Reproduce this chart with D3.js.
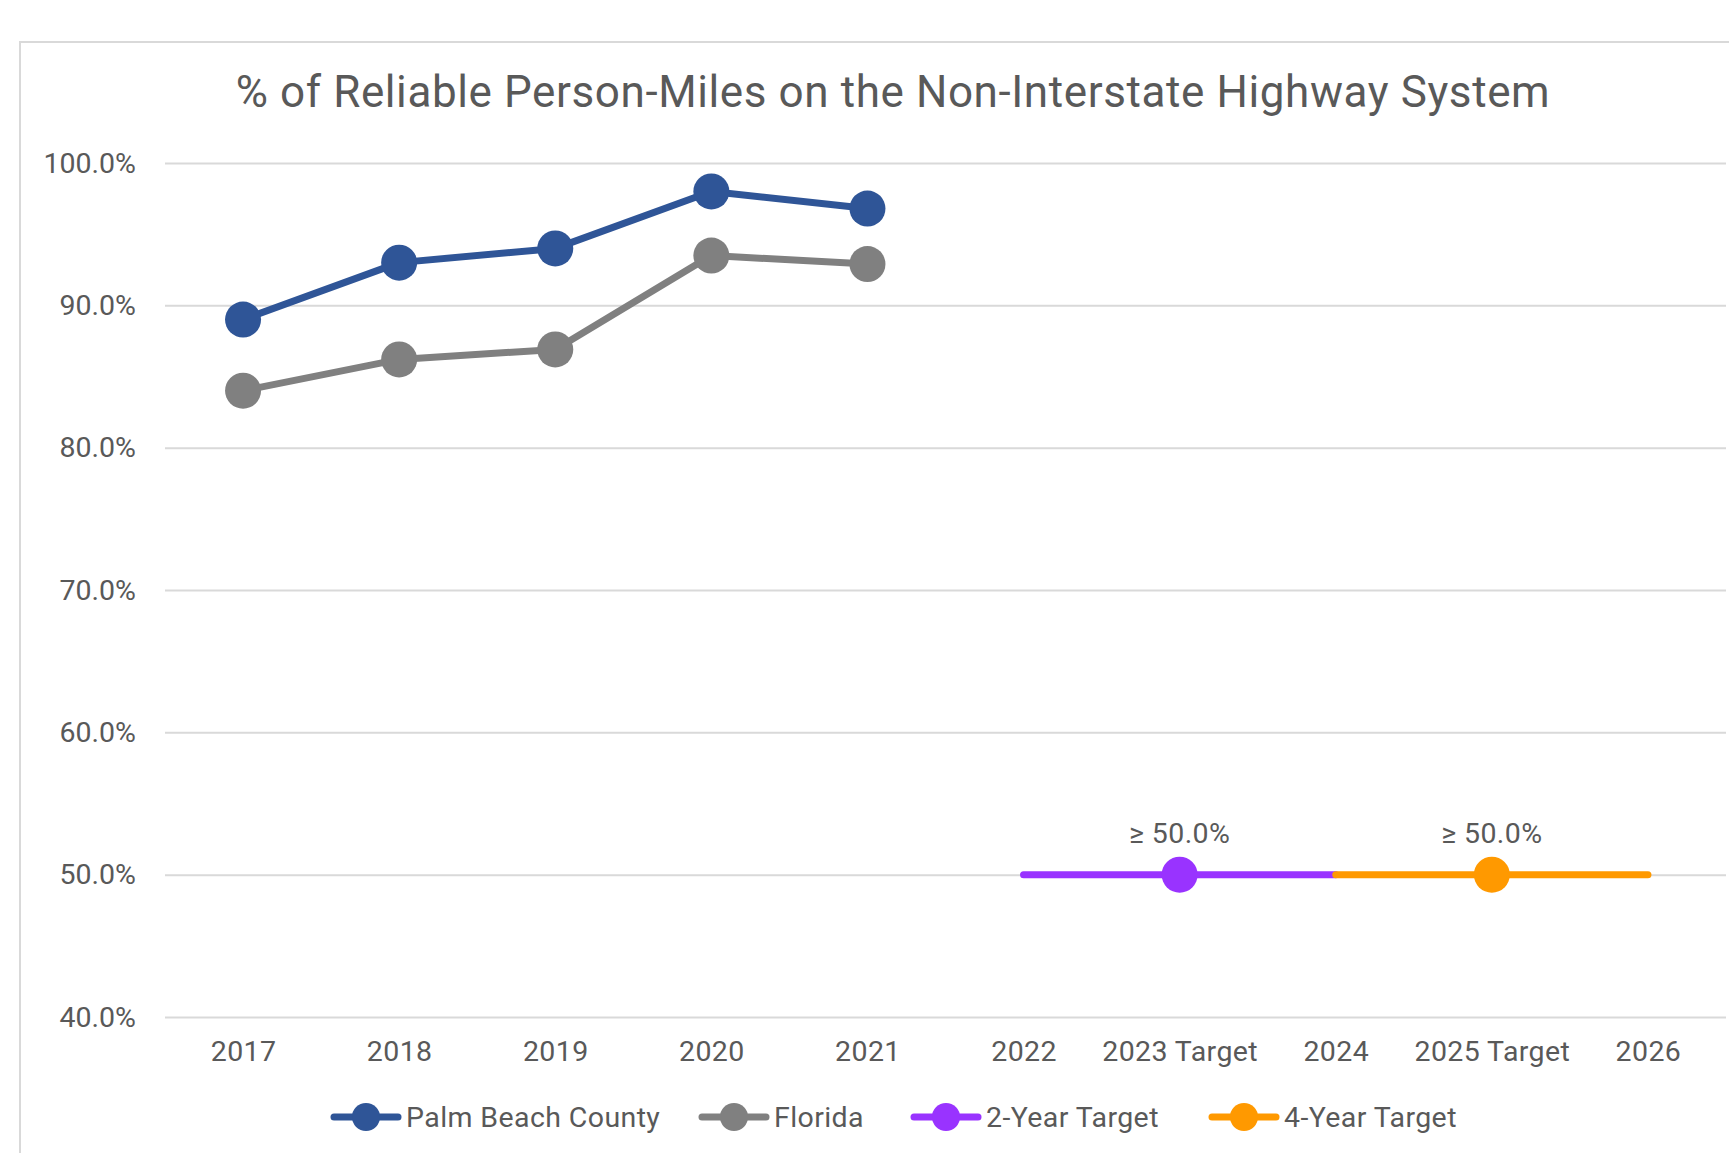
<!DOCTYPE html>
<html>
<head>
<meta charset="utf-8">
<script src="https://cdn.jsdelivr.net/npm/d3@7"></script>
<style>
  body { margin: 0; background: #fff; }
  text { font-family: Roboto, "Noto Sans", sans-serif; fill: #595959; }
</style>
</head>
<body>
<svg width="1729" height="1153"></svg>
<script>
// chart data
const categories = ["2017", "2018", "2019", "2020", "2021", "2022", "2023 Target", "2024", "2025 Target", "2026"];
const palmBeach = [89.0, 93.0, 94.0, 98.0, 96.8, null, null, null, null, null];
const florida = [84.0, 86.2, 86.9, 93.5, 92.9, null, null, null, null, null];
const twoYearTarget = [null, null, null, null, null, 50, 50, 50, null, null];
const fourYearTarget = [null, null, null, null, null, null, null, 50, 50, 50];
const twoYearMarkerAt = ["2023 Target"];
const fourYearMarkerAt = ["2025 Target"];
const targetLabel = "≥ 50.0%";
const yTicks = [40, 50, 60, 70, 80, 90, 100];
const title = "% of Reliable Person-Miles on the Non-Interstate Highway System";

const series = [
  { name: "Palm Beach County", values: palmBeach, color: "#2F5597", markers: categories },
  { name: "Florida", values: florida, color: "#808080", markers: categories },
  { name: "2-Year Target", values: twoYearTarget, color: "#9933FF", markers: twoYearMarkerAt, label: targetLabel },
  { name: "4-Year Target", values: fourYearTarget, color: "#FF9900", markers: fourYearMarkerAt, label: targetLabel }
];

const svg = d3.select("svg");

// outer chart frame (runs off the right and bottom of the picture)
svg.append("rect")
  .attr("x", 20).attr("y", 42)
  .attr("width", 1760).attr("height", 1200)
  .attr("fill", "#fff")
  .attr("stroke", "#d9d9d9")
  .attr("stroke-width", 2);

const plotLeft = 165, plotRight = 1726, plotTop = 163, plotBottom = 1017;

const x = d3.scalePoint().domain(categories).range([plotLeft, plotRight]).padding(0.5);
const y = d3.scaleLinear().domain([40, 100]).range([plotBottom, plotTop]);

svg.append("text")
  .attr("x", 893).attr("y", 107)
  .attr("text-anchor", "middle")
  .style("font-size", "44px")
  .style("letter-spacing", "0.6px")
  .text(title);

// y axis + gridlines
const yAxis = svg.append("g")
  .attr("transform", `translate(${plotLeft},0)`)
  .call(d3.axisLeft(y).tickValues(yTicks).tickSize(-(plotRight - plotLeft)).tickSizeOuter(0).tickPadding(29)
    .tickFormat(d => d3.format(".1f")(d) + "%"));
yAxis.select(".domain").remove();
yAxis.selectAll("line").attr("stroke", "#d9d9d9").attr("stroke-width", 2);
yAxis.selectAll("text").style("font-size", "28.5px").attr("fill", "#595959");

// x axis
const xAxis = svg.append("g")
  .attr("transform", `translate(0,${plotBottom})`)
  .call(d3.axisBottom(x).tickSize(0).tickPadding(24));
xAxis.select(".domain").remove();
xAxis.selectAll("text").style("font-size", "28.5px").style("letter-spacing", "0.4px").attr("fill", "#595959");

const line = d3.line()
  .defined(d => d.v != null)
  .x(d => x(d.c))
  .y(d => y(d.v));

series.forEach(s => {
  const pts = categories.map((c, i) => ({ c, v: s.values[i] }));
  svg.append("path")
    .datum(pts)
    .attr("fill", "none")
    .attr("stroke", s.color)
    .attr("stroke-width", 7)
    .attr("stroke-linecap", "round")
    .attr("stroke-linejoin", "round")
    .attr("d", line);

  const mk = pts.filter(d => d.v != null && s.markers.includes(d.c));
  svg.selectAll(null)
    .data(mk)
    .join("circle")
    .attr("cx", d => x(d.c))
    .attr("cy", d => y(d.v))
    .attr("r", 18)
    .attr("fill", s.color);

  if (s.label) {
    svg.selectAll(null)
      .data(mk)
      .join("text")
      .attr("x", d => x(d.c))
      .attr("y", d => y(d.v) - 32)
      .attr("text-anchor", "middle")
      .style("font-size", "28.5px")
      .style("letter-spacing", "0.4px")
      .text(s.label);
  }
});

// legend
const legendX = [366, 734, 946, 1244];
const legend = svg.append("g").attr("transform", "translate(0,1117)");
series.forEach((s, i) => {
  const g = legend.append("g").attr("transform", `translate(${legendX[i]},0)`);
  g.append("line")
    .attr("x1", -32).attr("x2", 32)
    .attr("stroke", s.color).attr("stroke-width", 7).attr("stroke-linecap", "round");
  g.append("circle").attr("r", 14).attr("fill", s.color);
  g.append("text")
    .attr("x", 40).attr("dy", "0.35em")
    .style("font-size", "28.5px")
    .style("letter-spacing", "0.4px")
    .text(s.name);
});
</script>
</body>
</html>
